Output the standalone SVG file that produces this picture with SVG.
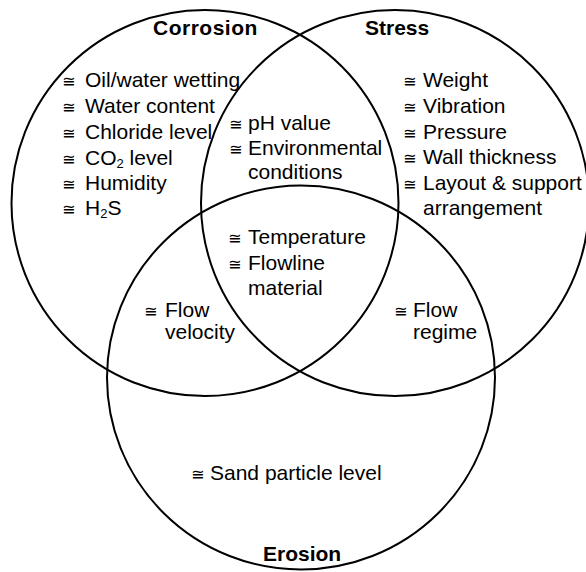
<svg xmlns="http://www.w3.org/2000/svg" width="586" height="572" viewBox="0 0 586 572">
  <style>
    .ring { fill: none; stroke: #000; stroke-width: 2; }
    .head { font-family: "Liberation Sans", Arial, sans-serif; font-size: 21px; font-weight: bold; fill: #000; }
    .item { font-family: "Liberation Sans", Arial, sans-serif; font-size: 21px; fill: #000; }
    .sym { font-family: "DejaVu Sans", sans-serif; font-size: 16px; }
    .sub { font-size: 13px; }
  </style>
  <rect width="586" height="572" fill="#fff"/>

  <!-- the three overlapping sets -->
  <g id="connectors">
    <ellipse id="ring-corrosion" class="ring" cx="205" cy="203" rx="193.5" ry="193"/>
    <ellipse id="ring-stress" class="ring" cx="395" cy="203" rx="194" ry="193"/>
    <ellipse id="ring-erosion" class="ring" cx="301" cy="377.5" rx="194" ry="192"/>
  </g>

  <g id="corrosion">
    <text class="head" x="153" y="35" letter-spacing="0.5">Corrosion</text>
    <text class="item"><tspan class="sym" x="62" y="87">≅</tspan><tspan x="85" y="87">Oil/water wetting</tspan></text>
    <text class="item"><tspan class="sym" x="62" y="113">≅</tspan><tspan x="85" y="113">Water content</tspan></text>
    <text class="item"><tspan class="sym" x="62" y="139">≅</tspan><tspan x="85" y="139">Chloride level</tspan></text>
    <text class="item"><tspan class="sym" x="62" y="165">≅</tspan><tspan x="85" y="165">CO<tspan class="sub" dy="3">2</tspan><tspan dy="-3"> level</tspan></tspan></text>
    <text class="item"><tspan class="sym" x="62" y="190">≅</tspan><tspan x="85" y="190">Humidity</tspan></text>
    <text class="item"><tspan class="sym" x="62" y="215">≅</tspan><tspan x="85" y="215">H<tspan class="sub" dy="3">2</tspan><tspan dy="-3">S</tspan></tspan></text>
  </g>

  <g id="stress">
    <text class="head" x="365" y="35">Stress</text>
    <text class="item"><tspan class="sym" x="403" y="87">≅</tspan><tspan x="423" y="87">Weight</tspan></text>
    <text class="item"><tspan class="sym" x="403" y="113">≅</tspan><tspan x="423" y="113">Vibration</tspan></text>
    <text class="item"><tspan class="sym" x="403" y="139">≅</tspan><tspan x="423" y="139">Pressure</tspan></text>
    <text class="item"><tspan class="sym" x="403" y="164">≅</tspan><tspan x="423" y="164">Wall thickness</tspan></text>
    <text class="item"><tspan class="sym" x="403" y="190">≅</tspan><tspan x="423" y="190">Layout &amp; support</tspan></text>
    <text class="item" x="423" y="215">arrangement</text>
  </g>

  <g id="corrosion-stress">
    <text class="item"><tspan class="sym" x="229" y="130">≅</tspan><tspan x="248" y="130">pH value</tspan></text>
    <text class="item"><tspan class="sym" x="229" y="155">≅</tspan><tspan x="248" y="155">Environmental</tspan></text>
    <text class="item" x="248" y="179">conditions</text>
  </g>

  <g id="all-three">
    <text class="item"><tspan class="sym" x="228" y="244">≅</tspan><tspan x="248" y="244">Temperature</tspan></text>
    <text class="item"><tspan class="sym" x="228" y="270">≅</tspan><tspan x="248" y="270">Flowline</tspan></text>
    <text class="item" x="248" y="295">material</text>
  </g>

  <g id="corrosion-erosion">
    <text class="item"><tspan class="sym" x="144" y="317">≅</tspan><tspan x="165" y="317">Flow</tspan></text>
    <text class="item" x="165" y="339">velocity</text>
  </g>

  <g id="stress-erosion">
    <text class="item"><tspan class="sym" x="394" y="317">≅</tspan><tspan x="413" y="317">Flow</tspan></text>
    <text class="item" x="413" y="339">regime</text>
  </g>

  <g id="erosion">
    <text class="item"><tspan class="sym" x="191" y="480">≅</tspan><tspan x="210" y="480">Sand particle level</tspan></text>
    <text class="head" x="263" y="561">Erosion</text>
  </g>
</svg>
